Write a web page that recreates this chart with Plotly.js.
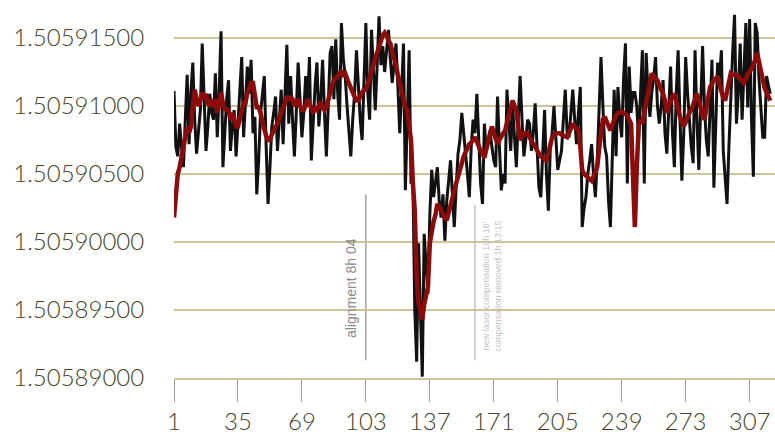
<!DOCTYPE html>
<html>
<head>
<meta charset="utf-8">
<script src="https://cdn.plot.ly/plotly-3.0.1.min.js"></script>
<style>html,body{margin:0;padding:0;background:#fff;}#chart{width:775px;height:435px;}</style>
</head>
<body>
<div id="chart"></div>
<script>
// measured series (black = raw readings, red = smoothed readings)
const rawValues = [
1.5059111,1.5059070,1.5059063,1.5059087,1.5059070,1.5059055,1.5059090,1.5059123,1.5059072,1.5059110,
1.5059132,1.5059090,1.5059065,1.5059080,1.5059097,1.5059146,1.5059100,1.5059067,1.5059085,1.5059109,
1.5059095,1.5059090,1.5059124,1.5059077,1.5059110,1.5059155,1.5059055,1.5059080,1.5059105,1.5059119,
1.5059067,1.5059085,1.5059097,1.5059063,1.5059090,1.5059115,1.5059136,1.5059077,1.5059105,1.5059129,
1.5059109,1.5059134,1.5059080,1.5059092,1.5059035,1.5059060,1.5059095,1.5059110,1.5059122,1.5059070,
1.5059028,1.5059055,1.5059085,1.5059095,1.5059107,1.5059067,1.5059095,1.5059112,1.5059072,1.5059110,
1.5059145,1.5059087,1.5059122,1.5059090,1.5059063,1.5059095,1.5059132,1.5059105,1.5059077,1.5059095,
1.5059122,1.5059100,1.5059136,1.5059060,1.5059090,1.5059115,1.5059132,1.5059085,1.5059105,1.5059134,
1.5059095,1.5059063,1.5059100,1.5059139,1.5059144,1.5059105,1.5059149,1.5059110,1.5059090,1.5059161,
1.5059135,1.5059122,1.5059100,1.5059080,1.5059063,1.5059090,1.5059109,1.5059141,1.5059115,1.5059090,
1.5059075,1.5059120,1.5059161,1.5059110,1.5059090,1.5059156,1.5059120,1.5059097,1.5059130,1.5059166,
1.5059130,1.5059144,1.5059125,1.5059140,1.5059156,1.5059135,1.5059117,1.5059130,1.5059146,1.5059115,
1.5059080,1.5059110,1.5059146,1.5059038,1.5059090,1.5059141,1.5059043,1.5059045,1.5058950,1.5058912,
1.5058999,1.5058940,1.5058901,1.5059006,1.5058980,1.5058962,1.5059020,1.5059053,1.5059033,1.5059045,
1.5059055,1.5059030,1.5059018,1.5059035,1.5059001,1.5059030,1.5059045,1.5059060,1.5059035,1.5059011,
1.5059040,1.5059065,1.5059075,1.5059095,1.5059080,1.5059067,1.5059050,1.5059033,1.5059070,1.5059090,
1.5059080,1.5059109,1.5059070,1.5059043,1.5059028,1.5059087,1.5059067,1.5059075,1.5059082,1.5059070,
1.5059060,1.5059055,1.5059107,1.5059070,1.5059038,1.5059050,1.5059043,1.5059112,1.5059090,1.5059067,
1.5059100,1.5059080,1.5059055,1.5059090,1.5059122,1.5059090,1.5059063,1.5059075,1.5059090,1.5059087,
1.5059067,1.5059080,1.5059102,1.5059070,1.5059040,1.5059033,1.5059070,1.5059097,1.5059050,1.5059023,
1.5059067,1.5059080,1.5059100,1.5059075,1.5059053,1.5059060,1.5059067,1.5059090,1.5059112,1.5059080,
1.5059077,1.5059095,1.5059112,1.5059090,1.5059072,1.5059095,1.5059114,1.5059011,1.5059025,1.5059033,
1.5059050,1.5059060,1.5059072,1.5059050,1.5059033,1.5059060,1.5059100,1.5059136,1.5059100,1.5059070,
1.5059063,1.5059030,1.5059011,1.5059070,1.5059112,1.5059063,1.5059114,1.5059090,1.5059077,1.5059120,
1.5059146,1.5059043,1.5059129,1.5059095,1.5059110,1.5059110,1.5059100,1.5059075,1.5059110,1.5059141,
1.5059043,1.5059139,1.5059110,1.5059092,1.5059110,1.5059120,1.5059136,1.5059100,1.5059087,1.5059100,
1.5059119,1.5059080,1.5059065,1.5059100,1.5059129,1.5059080,1.5059055,1.5059110,1.5059141,1.5059090,
1.5059045,1.5059080,1.5059136,1.5059110,1.5059090,1.5059070,1.5059058,1.5059141,1.5059090,1.5059053,
1.5059100,1.5059144,1.5059100,1.5059075,1.5059063,1.5059100,1.5059134,1.5059040,1.5059090,1.5059132,
1.5059120,1.5059141,1.5059067,1.5059045,1.5059028,1.5059070,1.5059109,1.5059140,1.5059167,1.5059087,
1.5059110,1.5059146,1.5059090,1.5059120,1.5059161,1.5059099,1.5059164,1.5059090,1.5059048,1.5059161,
1.5059154,1.5059120,1.5059097,1.5059077,1.5059077,1.5059122,1.5059115,1.5059109
];
const smoothValues = [
1.5059018,1.5059035,1.5059050,1.5059055,1.5059065,1.5059070,1.5059077,1.5059085,1.5059080,1.5059085,
1.5059100,1.5059112,1.5059105,1.5059100,1.5059104,1.5059110,1.5059105,1.5059109,1.5059102,1.5059100,
1.5059105,1.5059099,1.5059105,1.5059095,1.5059102,1.5059110,1.5059102,1.5059098,1.5059097,1.5059097,
1.5059090,1.5059095,1.5059090,1.5059085,1.5059085,1.5059090,1.5059098,1.5059102,1.5059102,1.5059110,
1.5059113,1.5059117,1.5059117,1.5059108,1.5059099,1.5059099,1.5059095,1.5059088,1.5059082,1.5059078,
1.5059075,1.5059075,1.5059079,1.5059083,1.5059085,1.5059087,1.5059092,1.5059096,1.5059099,1.5059102,
1.5059107,1.5059104,1.5059107,1.5059105,1.5059100,1.5059102,1.5059105,1.5059100,1.5059097,1.5059097,
1.5059100,1.5059105,1.5059102,1.5059098,1.5059095,1.5059098,1.5059097,1.5059100,1.5059103,1.5059099,
1.5059097,1.5059099,1.5059105,1.5059110,1.5059115,1.5059119,1.5059120,1.5059122,1.5059124,1.5059125,
1.5059123,1.5059124,1.5059120,1.5059116,1.5059114,1.5059110,1.5059107,1.5059104,1.5059104,1.5059108,
1.5059110,1.5059112,1.5059112,1.5059116,1.5059120,1.5059124,1.5059130,1.5059135,1.5059140,1.5059144,
1.5059148,1.5059152,1.5059154,1.5059152,1.5059148,1.5059146,1.5059140,1.5059136,1.5059130,1.5059123,
1.5059118,1.5059112,1.5059105,1.5059099,1.5059097,1.5059085,1.5059075,1.5059043,1.5059023,1.5058974,
1.5058955,1.5058950,1.5058943,1.5058954,1.5058960,1.5058967,1.5058999,1.5059010,1.5059015,1.5059020,
1.5059028,1.5059026,1.5059023,1.5059020,1.5059018,1.5059016,1.5059022,1.5059028,1.5059033,1.5059038,
1.5059043,1.5059048,1.5059054,1.5059060,1.5059063,1.5059066,1.5059070,1.5059072,1.5059073,1.5059075,
1.5059077,1.5059074,1.5059070,1.5059067,1.5059065,1.5059062,1.5059068,1.5059075,1.5059080,1.5059085,
1.5059080,1.5059075,1.5059072,1.5059075,1.5059078,1.5059080,1.5059082,1.5059088,1.5059095,1.5059100,
1.5059104,1.5059100,1.5059097,1.5059085,1.5059075,1.5059077,1.5059080,1.5059080,1.5059080,1.5059077,
1.5059074,1.5059072,1.5059070,1.5059067,1.5059065,1.5059063,1.5059062,1.5059060,1.5059060,1.5059065,
1.5059070,1.5059077,1.5059078,1.5059080,1.5059080,1.5059080,1.5059079,1.5059078,1.5059077,1.5059077,
1.5059080,1.5059083,1.5059087,1.5059085,1.5059083,1.5059082,1.5059070,1.5059053,1.5059050,1.5059049,
1.5059048,1.5059046,1.5059045,1.5059048,1.5059051,1.5059055,1.5059068,1.5059080,1.5059090,1.5059092,
1.5059088,1.5059084,1.5059082,1.5059086,1.5059090,1.5059093,1.5059095,1.5059095,1.5059096,1.5059095,
1.5059095,1.5059093,1.5059090,1.5059087,1.5059048,1.5059011,1.5059053,1.5059085,1.5059090,1.5059087,
1.5059095,1.5059102,1.5059107,1.5059115,1.5059124,1.5059122,1.5059120,1.5059119,1.5059115,1.5059112,
1.5059109,1.5059104,1.5059095,1.5059100,1.5059105,1.5059107,1.5059109,1.5059103,1.5059096,1.5059092,
1.5059088,1.5059085,1.5059088,1.5059092,1.5059095,1.5059097,1.5059101,1.5059105,1.5059109,1.5059104,
1.5059098,1.5059093,1.5059090,1.5059097,1.5059105,1.5059114,1.5059116,1.5059119,1.5059120,1.5059122,
1.5059116,1.5059110,1.5059106,1.5059104,1.5059110,1.5059118,1.5059124,1.5059123,1.5059123,1.5059122,
1.5059122,1.5059120,1.5059118,1.5059117,1.5059120,1.5059123,1.5059126,1.5059127,1.5059130,1.5059134,
1.5059139,1.5059132,1.5059125,1.5059117,1.5059113,1.5059110,1.5059106,1.5059104
];
const xTickVals = [1, 35, 69, 103, 137, 171, 205, 239, 273, 307];
const yTickVals = [1.50589, 1.505895, 1.5059, 1.505905, 1.50591, 1.505915];
const eventX = [103, 161];
const eventTop = [1.5059035, 1.5059027];
const eventBottom = [1.5058913, 1.5058913];
const eventLabels = ["alignment 8h 04", "new laser compensation 19h 16'<br>compensation removed 1h 13:15"];

const idx = rawValues.map((_, i) => i + 1);
const labelColor = '#434329';
const gridColor = '#cdc597';
const tickFont = {family: 'Lato, "Open Sans", sans-serif', size: 24, color: labelColor, weight: 300};

const traces = [
  {x: idx, y: rawValues, type: 'scatter', mode: 'lines',
   line: {color: '#111111', width: 3}, hoverinfo: 'skip'},
  {x: idx, y: smoothValues, type: 'scatter', mode: 'lines',
   line: {color: '#8c0c0c', width: 4.5}, hoverinfo: 'skip'}
];

const shapes = eventX.map((xv, k) => ({
  type: 'line', xref: 'x', yref: 'y', x0: xv, x1: xv, y0: eventBottom[k], y1: eventTop[k],
  line: {color: k === 0 ? '#8a8a8a' : '#b5b5b5', width: 1.2}, layer: 'below'
}));

const annotations = [
  {x: eventX[0], y: 1.5058966, xref: 'x', yref: 'y', text: eventLabels[0], showarrow: false,
   textangle: -90, xshift: -15, font: {family: 'Liberation Sans, Arial, sans-serif', size: 14, color: '#8a8a8a'}},
  {x: eventX[1], y: 1.5058968, xref: 'x', yref: 'y', text: eventLabels[1], showarrow: false,
   textangle: -90, xshift: 17, font: {family: 'Liberation Sans, Arial, sans-serif', size: 9, color: '#c4c4c4'}}
];

const layout = {
  width: 775, height: 435,
  margin: {l: 174, r: 0, t: 10, b: 57},
  paper_bgcolor: '#ffffff', plot_bgcolor: '#ffffff',
  showlegend: false,
  font: {family: 'Lato, "Open Sans", sans-serif', size: 24, color: labelColor},
  xaxis: {
    range: [1, 320.5], tickmode: 'array', tickvals: xTickVals, ticktext: xTickVals.map(String),
    showgrid: false, zeroline: false, showline: true, linecolor: gridColor, linewidth: 1.5,
    ticks: 'outside', ticklen: 22, tickwidth: 1, tickcolor: '#9a9a9a',
    tickfont: tickFont
  },
  yaxis: {
    range: [1.50589, 1.50591706], tickmode: 'array', tickvals: yTickVals, tickformat: '.8f',
    showgrid: true, gridcolor: gridColor, gridwidth: 1.5, zeroline: false, showline: false,
    ticks: 'outside', ticklen: 24, tickcolor: 'rgba(0,0,0,0)',
    tickfont: tickFont
  },
  shapes: shapes,
  annotations: annotations
};

Plotly.newPlot('chart', traces, layout, {staticPlot: true, displayModeBar: false});
</script>
</body>
</html>
